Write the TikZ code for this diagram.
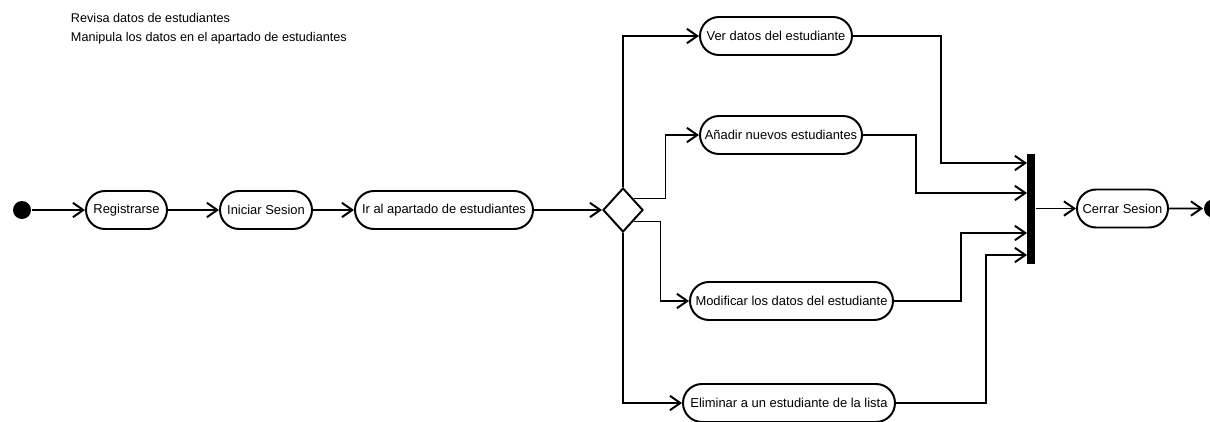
\documentclass[tikz,border=0pt]{standalone}
\usepackage{fontspec}
\setmainfont{Liberation Sans}
\usetikzlibrary{arrows.meta,shapes.misc,shapes.geometric}
\newcommand{\pxu}{0.025cm}

\begin{document}
\begin{tikzpicture}[x=0.025cm, y=-0.025cm, line width=1.4pt,
  flow/.style={-{Straight Barb[length=2.6mm,width=3.6mm]}},
  activity/.style={rounded rectangle, draw, minimum height=38*\pxu, inner xsep=0pt, font=\fontsize{9.2}{11}\selectfont},
  note/.style={anchor=base west, inner sep=0pt, font=\fontsize{9}{11}\selectfont}]
\path[use as bounding box, clip] (0,0) rectangle (1210,421);
% Notes
\node[note] (note1) at (70,22) {Revisa datos de estudiantes};
\node[note] (note2) at (70,42) {Manipula los datos en el apartado de estudiantes};
% Start and main line
\node[circle, fill, inner sep=0pt, minimum size=18*\pxu] (start) at (22,210) {};
\node[activity, minimum width=81*\pxu] (reg) at (126.5,210) {Registrarse};
\node[activity, minimum width=92*\pxu] (ini) at (266,210) {Iniciar Sesion};
\node[activity, minimum width=178*\pxu] (ir) at (444,210) {Ir al apartado de estudiantes};
\node[diamond, draw, inner sep=0pt, minimum width=40*\pxu, minimum height=44*\pxu] (dec) at (623,210) {};
% Branches
\node[activity, minimum width=152*\pxu] (ver) at (776,36) {Ver datos del estudiante};
\node[activity, minimum width=162*\pxu] (anadir) at (781,135) {Añadir nuevos estudiantes};
\node[activity, minimum width=203*\pxu] (modif) at (791.5,301) {Modificar los datos del estudiante};
\node[activity, minimum width=212*\pxu] (elim) at (789,403) {Eliminar a un estudiante de la lista};
% Join bar and end
\node[rectangle, fill, inner sep=0pt, minimum width=8*\pxu, minimum height=110*\pxu] (bar) at (1031,208.5) {};
\coordinate (j1) at (1027,163);
\coordinate (j2) at (1027,193);
\coordinate (j3) at (1027,233);
\coordinate (j4) at (1027,255);
\node[activity, minimum width=91*\pxu] (cerrar) at (1122.5,208.5) {Cerrar Sesion};
\node[circle, fill, inner sep=0pt, minimum size=18*\pxu] (end) at (1213,208.5) {};
% Connectors
\draw[flow] (start) -- (reg);
\draw[flow] (reg) -- (ini);
\draw[flow] (ini) -- (ir);
\draw[flow] (ir) -- (dec.west);
\draw[flow] (dec.north) |- (ver.west);
\draw[flow] (dec.north east) -- ++(32,0) |- (anadir.west);
\draw[flow] (dec.south east) -- ++(27,0) |- (modif.west);
\draw[flow] (dec.south) |- (elim.west);
\draw[flow] (ver.east) -- ++(88,0) |- (j1);
\draw[flow] (anadir.east) -- ++(53,0) |- (j2);
\draw[flow] (modif.east) -- ++(67,0) |- (j3);
\draw[flow] (elim.east) -- ++(90,0) |- (j4);
\draw[flow] (bar.east) -- (cerrar.west);
\draw[flow] (cerrar) -- (end);
\end{tikzpicture}
\end{document}
